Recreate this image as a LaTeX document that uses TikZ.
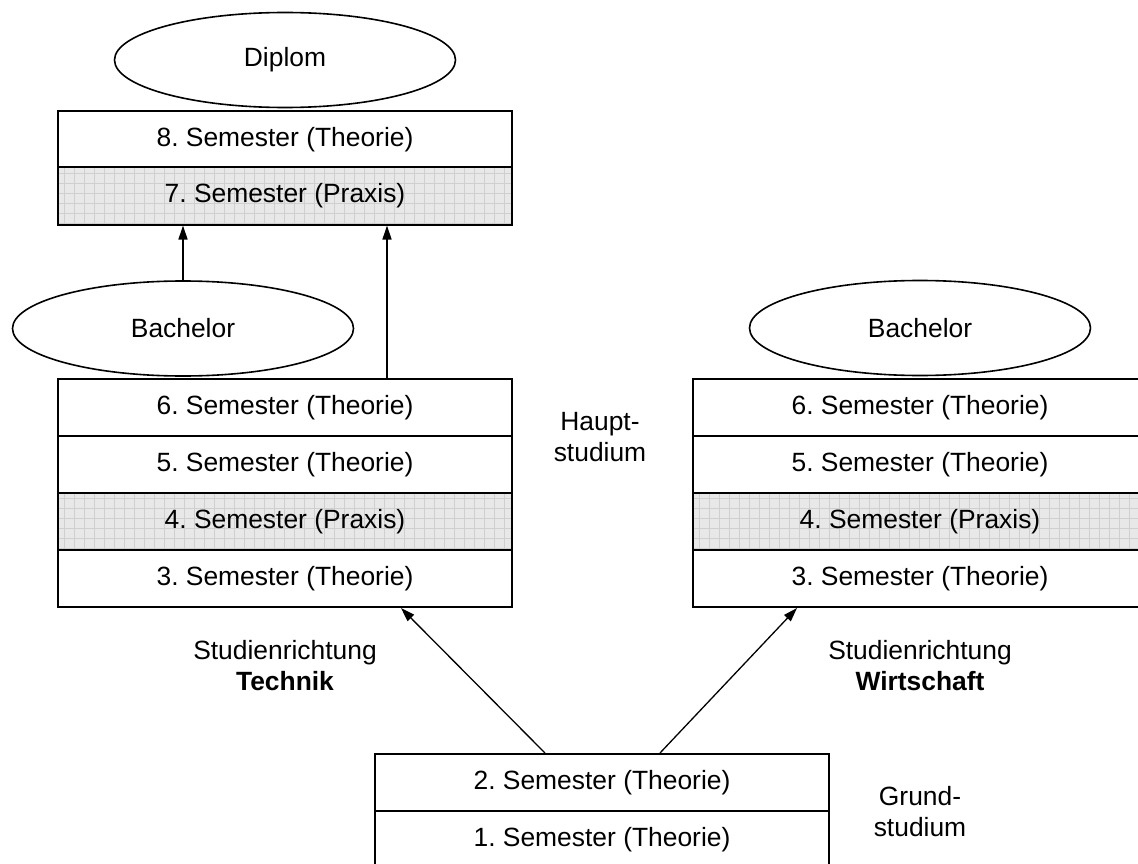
\documentclass[tikz,border=0pt]{standalone}
\usepackage{fontspec}
\setmainfont{Liberation Sans}
\usetikzlibrary{shapes.geometric,arrows.meta}
\frenchspacing
\begin{document}
\begin{tikzpicture}[x=1pt,y=-1pt,
  every node/.style={font=\fontsize{26.4}{31}\selectfont},
  row/.style={draw, line width=2pt, rectangle, minimum width=454pt, minimum height=57pt, inner sep=0pt, anchor=center},
  praxis/.style={row, fill=gray!18,
    path picture={\draw[gray!38, line width=0.6pt, step=10pt] (path picture bounding box.south west) grid (path picture bounding box.north east);}},
  degree/.style={draw, line width=1.6pt, ellipse, minimum width=341pt, minimum height=95pt, inner sep=0pt},
  label/.style={align=center, inner sep=0pt},
  arr/.style={line width=1.3pt, -{Triangle[length=14pt,width=9pt]}}]
\clip (0,0) rectangle (1138,864);
% top box
\node[row] (s8) at (285,139.5) {8. Semester (Theorie)};
\node[praxis] (s7) at (285,196) {7. Semester (Praxis)};
% left box
\node[row] (s6) at (285,407.5) {6. Semester (Theorie)};
\node[row] (s5) at (285,464.5) {5. Semester (Theorie)};
\node[praxis] (s4) at (285,521.5) {4. Semester (Praxis)};
\node[row] (s3) at (285,578.5) {3. Semester (Theorie)};
% right box
\node[row] (r6) at (920,407.5) {6. Semester (Theorie)};
\node[row] (r5) at (920,464.5) {5. Semester (Theorie)};
\node[praxis] (r4) at (920,521.5) {4. Semester (Praxis)};
\node[row] (r3) at (920,578.5) {3. Semester (Theorie)};
% bottom box
\node[row] (s2) at (602,782.5) {2. Semester (Theorie)};
\node[row] (s1) at (602,839.5) {1. Semester (Theorie)};
% degrees
\node[degree] (diplom) at (285,60) {Diplom};
\node[degree] (bachL) at (183,328.5) {Bachelor};
\node[degree] (bachR) at (920,328) {Bachelor};
% labels
\node[label] (haupt) at (600,437.5) {Haupt-\\studium};
\node[label] (grund) at (920,812) {Grund-\\studium};
\node[label] (technik) at (285,665.5) {Studienrichtung\\\textbf{Technik}};
\node[label] (wirtschaft) at (920,665.5) {Studienrichtung\\\textbf{Wirtschaft}};
% connectors
\draw[arr] (bachL.north) -- (bachL.north |- s7.south);
\draw[arr] ([xshift=102pt]s6.north) -- ([xshift=102pt]s7.south);
\draw[arr] ([xshift=-57pt]s2.north) -- ([xshift=116pt]s3.south);
\draw[arr] ([xshift=58pt]s2.north) -- ([xshift=-123pt]r3.south);
\end{tikzpicture}
\end{document}
